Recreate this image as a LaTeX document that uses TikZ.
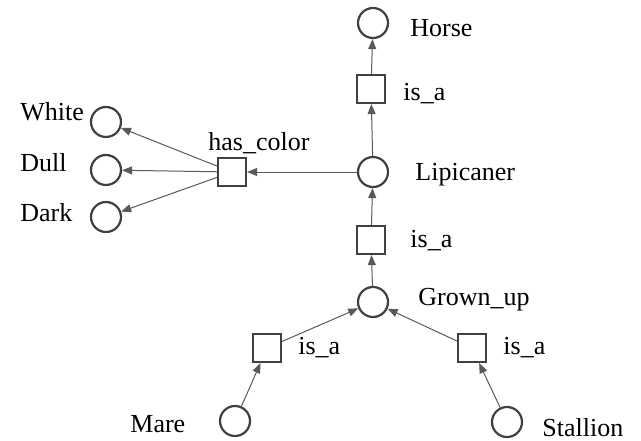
\documentclass[tikz,border=0pt]{standalone}
\usepackage{fontspec}
\setmainfont{Liberation Serif}
\usetikzlibrary{arrows.meta}
\begin{document}
\begin{tikzpicture}[x=0.5pt,y=-0.5pt,
  conc/.style={circle,draw=black!75,line width=1.1pt,minimum size=15pt,inner sep=0pt},
  rel/.style={rectangle,draw=black!75,line width=1.1pt,minimum size=14pt,inner sep=0pt},
  lbl/.style={anchor=base west,inner sep=0pt,font=\fontsize{13}{15}\selectfont},
  conn/.style={draw=black!65,line width=0.5pt,-{Triangle[length=5pt,width=4pt]}}
]
\useasboundingbox (0,0) rectangle (641,440);
% concepts
\node[conc] (horse) at (373,23) {};
\node[conc] (lipi) at (373,172) {};
\node[conc] (grown) at (373,302) {};
\node[conc] (mare) at (235,421) {};
\node[conc] (stal) at (507,422) {};
\node[conc] (white) at (106,122) {};
\node[conc] (dull) at (106,170) {};
\node[conc] (dark) at (106,217) {};
% relations
\node[rel] (isa1) at (371,89) {};
\node[rel] (isa2) at (371,240) {};
\node[rel] (isa3) at (267,348) {};
\node[rel] (isa4) at (472,348) {};
\node[rel] (hasc) at (232,172) {};
% labels
\node[lbl] (tHorse) at (410,36) {Horse};
\node[lbl] (tIsa1) at (403,100) {is\_a};
\node[lbl] (tLipi) at (415,180) {Lipicaner};
\node[lbl] (tHasc) at (208,150) {has\_color};
\node[lbl] (tWhite) at (20,120) {White};
\node[lbl] (tDull) at (20,171) {Dull};
\node[lbl] (tDark) at (20,221) {Dark};
\node[lbl] (tIsa2) at (410,247) {is\_a};
\node[lbl] (tGrown) at (418,305) {Grown\_up};
\node[lbl] (tIsa3) at (298,354) {is\_a};
\node[lbl] (tIsa4) at (503,354) {is\_a};
\node[lbl] (tStal) at (542,436) {Stallion};
\node[lbl] (tMare) at (130,432) {Mare};
% connectors
\draw[conn] (isa1) -- (horse);
\draw[conn] (lipi) -- (isa1);
\draw[conn] (isa2) -- (lipi);
\draw[conn] (grown) -- (isa2);
\draw[conn] (isa3) -- (grown);
\draw[conn] (isa4) -- (grown);
\draw[conn] (mare) -- (isa3);
\draw[conn] (stal) -- (isa4);
\draw[conn] (lipi) -- (hasc);
\draw[conn] (hasc) -- (white);
\draw[conn] (hasc) -- (dull);
\draw[conn] (hasc) -- (dark);
\end{tikzpicture}
\end{document}
